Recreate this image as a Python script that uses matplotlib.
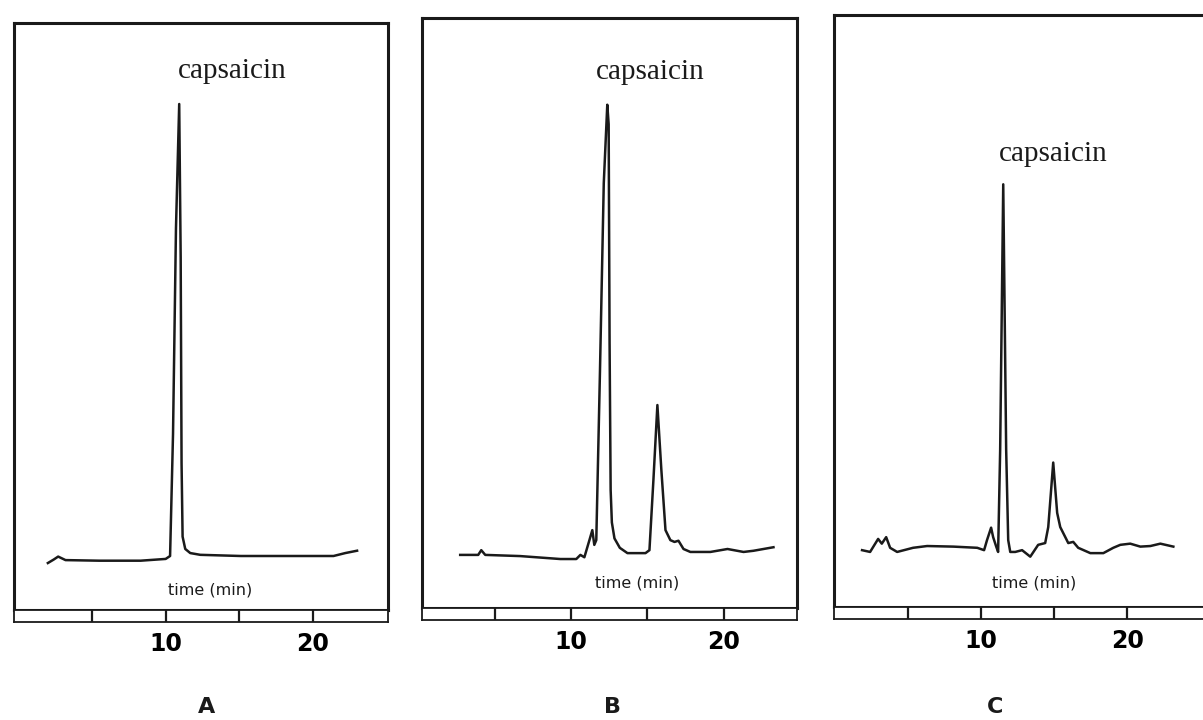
import matplotlib
matplotlib.use("Agg")
import matplotlib.pyplot as plt
from matplotlib import font_manager

# chromatogram traces (time in min, detector signal in % of panel height)
time_a = [2.0, 2.4, 2.7, 3.2, 5.5, 8.3, 10.0, 10.3, 10.5, 10.7, 10.92, 11.02, 11.08, 11.15,
          11.33, 11.67, 12.35, 15.1, 19.2, 21.4, 22.2, 23.0]
signal_a = [8.0, 8.6, 9.1, 8.5, 8.4, 8.4, 8.7, 9.2, 30.0, 65.0, 86.2, 60.0, 25.0, 12.5,
            10.4, 9.7, 9.4, 9.2, 9.2, 9.2, 9.7, 10.1]

time_b = [2.75, 3.93, 4.13, 4.39, 6.68, 9.31, 10.35, 10.62, 10.88, 11.21, 11.40, 11.53,
          11.66, 11.9, 12.15, 12.38, 12.47, 12.53, 12.6, 12.68, 12.85, 13.2, 13.7, 14.88, 15.14,
          15.4, 15.66, 15.92, 16.19, 16.51, 16.78, 17.04, 17.37, 17.82, 19.13, 20.25, 21.3,
          21.95, 23.26]
signal_b = [9.0, 9.0, 9.8, 9.0, 8.8, 8.3, 8.3, 9.0, 8.6, 11.5, 13.2, 10.7,
            11.5, 40.0, 72.0, 85.3, 82.0, 45.0, 20.0, 14.5, 11.8, 10.2, 9.3, 9.3, 9.8,
            21.7, 34.4, 23.4, 13.2, 11.5, 11.2, 11.4, 10.0, 9.5, 9.5, 10.0, 9.5,
            9.7, 10.3]

time_c = [1.85, 2.4, 2.95, 3.2, 3.5, 3.77, 4.25, 5.34, 6.3, 8.1, 9.73, 10.2, 10.4, 10.68,
          10.82, 11.03, 11.16, 11.3, 11.51, 11.71, 11.85, 11.99, 12.33, 12.8, 13.36, 13.9,
          14.38, 14.59, 14.93, 15.2, 15.41, 15.96, 16.3, 16.64, 17.47, 18.36, 19.04, 19.52,
          20.2, 20.89, 21.58, 22.26, 23.15]
signal_c = [9.6, 9.3, 11.5, 10.7, 11.8, 10.0, 9.3, 10.0, 10.3, 10.2, 10.0, 9.6, 11.3, 13.4,
            11.8, 10.2, 9.3, 26.6, 71.4, 26.6, 11.3, 9.3, 9.3, 9.6, 8.5, 10.5,
            10.8, 13.5, 24.4, 15.9, 13.5, 10.8, 11.0, 10.0, 9.1, 9.1, 10.0, 10.5,
            10.7, 10.2, 10.3, 10.7, 10.2]

panels = [
    # (time, signal, letter, capsaicin label pos, time label pos, xlim)
    (time_a, signal_a, "A", (14.5, 91.8), (13.0, 3.4), (-0.3, 25.1)),
    (time_b, signal_b, "B", (15.2, 90.8), (14.35, 4.2), (0.25, 24.8)),
    (time_c, signal_c, "C", (14.9, 76.5), (13.6, 4.1), (-0.07, 26.0)),
]
minor_ticks = [5, 10, 15, 20]
major_ticks = [10, 20]
major_labels = ["10", "20"]

# box extents in pixels: left, right, top, bottom
boxes = [(14, 388, 23, 610), (422, 797, 18, 608), (834, 1215, 15, 607)]
letter_x = [207, 612, 995]
strip_h = 12

installed = {f.name for f in font_manager.fontManager.ttflist}
narrow = "Liberation Sans Narrow" if "Liberation Sans Narrow" in installed else "DejaVu Sans"

W, H = 1203, 720
fig = plt.figure(figsize=(W / 100, H / 100), dpi=100)

for (t, s, letter, cap_pos, tl_pos, xlim), (l, r, top, bot), lx in zip(panels, boxes, letter_x):
    ax = fig.add_axes([l / W, 1 - bot / H, (r - l) / W, (bot - top) / H])
    ax.plot(t, s, color="#1a1a1a", lw=1.8, solid_joinstyle="round")
    ax.set_xlim(*xlim)
    ax.set_ylim(0, 100)
    ax.set_xticks([])
    ax.set_yticks([])
    for sp in ax.spines.values():
        sp.set_linewidth(2.2)
        sp.set_color("#1a1a1a")
    ax.text(cap_pos[0], cap_pos[1], "capsaicin", family="Liberation Serif",
            fontsize=21, ha="center", va="center", color="#1a1a1a")
    ax.text(tl_pos[0], tl_pos[1], "time (min)", family="DejaVu Sans",
            fontsize=11.5, ha="center", va="center", color="#1a1a1a")

    # time axis strip under each panel
    sx = fig.add_axes([l / W, 1 - (bot + strip_h) / H, (r - l) / W, strip_h / H])
    sx.set_xlim(*xlim)
    sx.set_ylim(0, 1)
    sx.set_yticks([])
    for m in minor_ticks:
        sx.axvline(m, color="#1a1a1a", lw=1.6)
    sx.set_xticks(major_ticks)
    sx.set_xticklabels(major_labels, fontsize=17, fontweight="bold", family="DejaVu Sans")
    sx.tick_params(axis="x", length=0, pad=7)
    for sp in sx.spines.values():
        sp.set_linewidth(1.3)
        sp.set_color("#1a1a1a")

    fig.text(lx / W, 1 - 707 / H, letter, fontsize=16, fontweight="bold", family=narrow,
             ha="center", va="center", color="#1a1a1a")

fig.savefig("out.png", dpi=100, facecolor="white")
